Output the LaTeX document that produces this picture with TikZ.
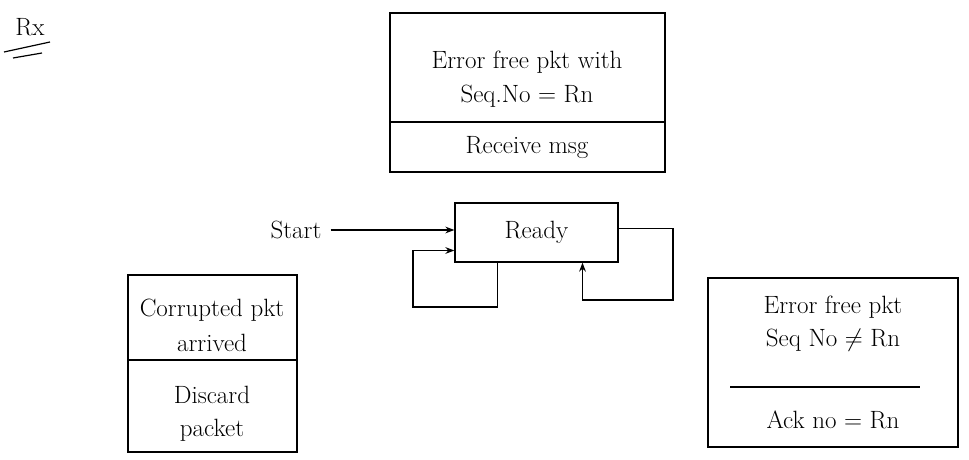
\documentclass[tikz,border=0pt]{standalone}
\usepackage{amsmath}
\usepackage{amssymb}
\usetikzlibrary{calc,arrows.meta,positioning}

\begin{document}
\begin{tikzpicture}[x=1pt,y=-1pt,font=\fontsize{25}{30}\selectfont,
  box/.style={draw,line width=1.3pt,inner sep=0pt},
  txt/.style={inner sep=1pt},
  edge/.style={line width=1.2pt,-{Stealth[length=9pt]}}]
\useasboundingbox (0,0) rectangle (969,460);
% title
\node[txt] (rx) at (30,27) {Rx};
\draw[line width=1.2pt] (4,52)--(50,42);
\draw[line width=1.2pt] (13,58)--(42,53);
% top box
\node[box,minimum width=275pt,minimum height=159pt] (topbox) at (527.5,92.5) {};
\draw[line width=1.2pt] (topbox.west |- 0,122) -- (topbox.east |- 0,122);
\node[txt] (topc1) at (527,62) {Error free pkt with};
\node[txt] (topc2) at (527,96) {Seq.No = Rn};
\node[txt] (topa) at (527,148) {Receive msg};
% state
\node[box,minimum width=163pt,minimum height=59pt] (ready) at (536.5,232.5) {Ready};
\node[txt] (start) at (296,230) {Start};
\draw[edge] ([xshift=8pt]start.east) -- (ready.west |- start.east);
% self loops
\coordinate (lloop) at (413,307);
\coordinate (rloop) at (673,300);
\draw[edge] ([xshift=-39pt]ready.south) |- (lloop) |- ([yshift=-18pt]ready.west);
\draw[edge] ([yshift=4pt]ready.east) -| (rloop) -| ([xshift=46pt]ready.south);
% left box
\node[box,minimum width=169pt,minimum height=177pt] (leftbox) at (212.5,363.5) {};
\draw[line width=1.2pt] (leftbox.west |- 0,360) -- (leftbox.east |- 0,360);
\node[txt] (leftc1) at (212,310) {Corrupted pkt};
\node[txt] (leftc2) at (212,343) {arrived};
\node[txt] (lefta1) at (212,395) {Discard};
\node[txt] (lefta2) at (212,430) {packet};
% right box
\node[box,minimum width=250pt,minimum height=169pt] (rightbox) at (833,362.5) {};
\draw[line width=1.2pt] (730,387) -- (920,387);
\node[txt] (rightc1) at (833,307) {Error free pkt};
\node[txt] (rightc2) at (833,340) {Seq No $\neq$ Rn};
\node[txt] (righta) at (833,420) {Ack no = Rn};
\end{tikzpicture}
\end{document}
